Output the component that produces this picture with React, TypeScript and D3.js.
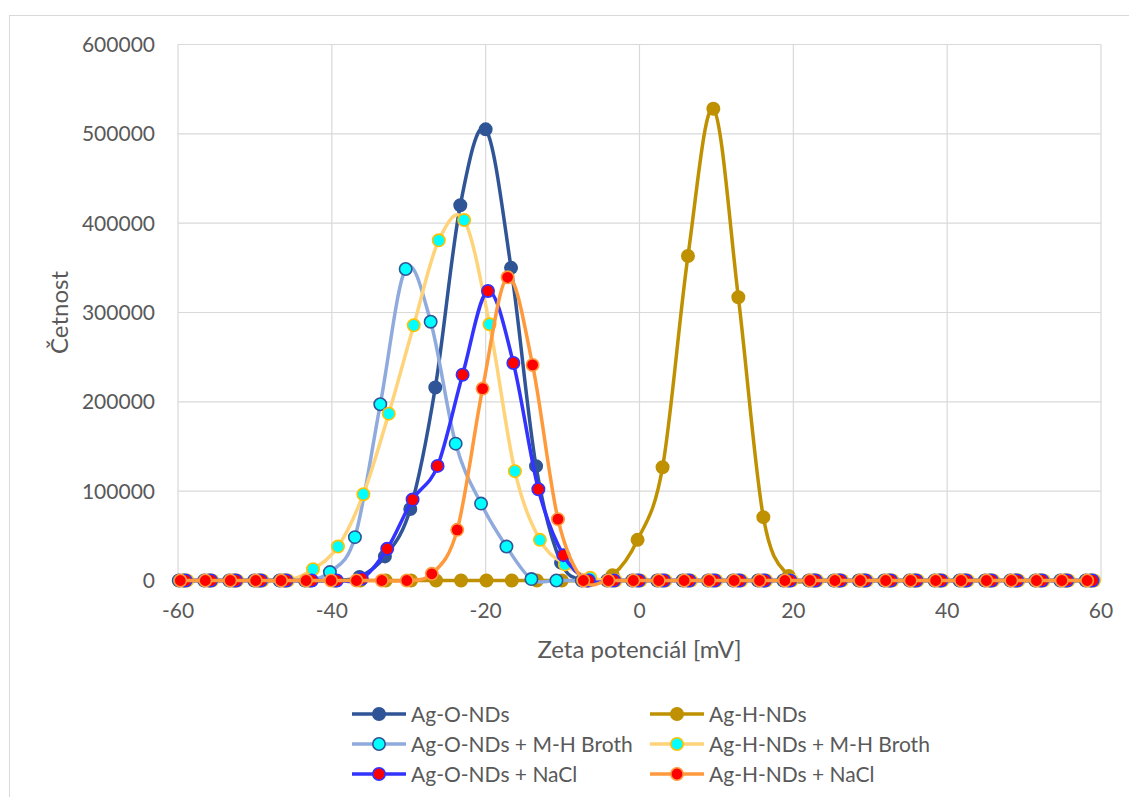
import React from "react";
import * as d3 from "d3";

// ---- data ----
const xTicks = [-60, -40, -20, 0, 20, 40, 60];
const yTicks = [0, 100000, 200000, 300000, 400000, 500000, 600000];

const seriesNames = [
  "Ag-O-NDs",
  "Ag-H-NDs",
  "Ag-O-NDs + M-H Broth",
  "Ag-H-NDs + M-H Broth",
  "Ag-O-NDs + NaCl",
  "Ag-H-NDs + NaCl",
];

const zetaAgO = [-59.3,-56.0,-52.75,-49.5,-46.2,-42.9,-39.65,-36.4,-33.1,-29.8,-26.55,-23.3,-20.0,-16.7,-13.45,-10.2,-6.9,-3.6,-0.35,2.9,6.2,9.5,12.75,16.0,19.3,22.6,25.85,29.1,32.4,35.7,38.95,42.2,45.5,48.8,52.05,55.3,58.6];
const countAgO = [0,0,0,0,0,0,0,4000,27000,80000,216000,420000,505000,350000,128000,20000,0,0,0,0,0,0,0,0,0,0,0,0,0,0,0,0,0,0,0,0,0];

const zetaAgH = [-59.2,-55.9,-52.65,-49.4,-46.1,-42.8,-39.55,-36.3,-33.0,-29.7,-26.45,-23.2,-19.9,-16.6,-13.35,-10.1,-6.8,-3.5,-0.25,3.0,6.3,9.6,12.85,16.1,19.4,22.7,25.95,29.2,32.5,35.8,39.05,42.3,45.6,48.9,52.15,55.4,58.7];
const countAgH = [0,0,0,0,0,0,0,0,0,0,0,0,0,0,0,0,0,6000,45500,126800,363200,528000,317000,70900,5000,0,0,0,0,0,0,0,0,0,0,0,0];

const zetaAgOBroth = [-59.9,-56.6,-53.35,-50.1,-46.8,-43.5,-40.25,-37.0,-33.7,-30.4,-27.15,-23.9,-20.6,-17.3,-14.05,-10.8,-7.5,-4.2,-0.95,2.3,5.6,8.9,12.15,15.4,18.7,22.0,25.25,28.5,31.8,35.1,38.35,41.6,44.9,48.2,51.45,54.7,58.0];
const countAgOBroth = [0,0,0,0,0,0,9400,48500,197300,348700,289700,153200,86100,38000,1600,0,0,0,0,0,0,0,0,0,0,0,0,0,0,0,0,0,0,0,0,0,0];

const zetaAgHBroth = [-58.8,-55.55,-52.3,-49.0,-45.7,-42.45,-39.2,-35.9,-32.6,-29.35,-26.1,-22.8,-19.5,-16.2,-12.95,-9.7,-6.4,-3.1,0.15,3.4,6.7,10.0,13.25,16.5,19.8,23.1,26.35,29.6,32.9,36.2,39.45,42.7,46.0,49.3,52.55,55.8,59.1];
const countAgHBroth = [0,0,0,0,0,12700,38000,96600,186800,285700,380800,403500,286800,122400,45500,18000,3000,0,0,0,0,0,0,0,0,0,0,0,0,0,0,0,0,0,0,0,0];

const zetaAgONaCl = [-59.0,-55.7,-52.45,-49.2,-45.9,-42.6,-39.35,-36.1,-32.8,-29.5,-26.25,-23.0,-19.7,-16.4,-13.15,-9.9,-6.6,-3.3,-0.05,3.2,6.5,9.8,13.05,16.3,19.6,22.9,26.15,29.4,32.7,36.0,39.25,42.5,45.8,49.1,52.35,55.6,58.9];
const countAgONaCl = [0,0,0,0,0,0,0,2000,35500,90600,128300,230400,324100,243500,102200,28400,0,0,0,0,0,0,0,0,0,0,0,0,0,0,0,0,0,0,0,0,0];

const zetaAgHNaCl = [-59.7,-56.45,-53.2,-49.9,-46.6,-43.35,-40.1,-36.8,-33.5,-30.25,-27.0,-23.7,-20.4,-17.15,-13.9,-10.6,-7.3,-4.05,-0.8,2.5,5.8,9.05,12.3,15.6,18.9,22.15,25.4,28.7,32.0,35.25,38.5,41.8,45.1,48.35,51.6,54.9,58.2];
const countAgHNaCl = [0,0,0,0,0,0,0,0,0,0,7500,56700,214800,339400,241300,68700,0,0,0,0,0,0,0,0,0,0,0,0,0,0,0,0,0,0,0,0,0];

const seriesX = [zetaAgO, zetaAgH, zetaAgOBroth, zetaAgHBroth, zetaAgONaCl, zetaAgHNaCl];
const seriesY = [countAgO, countAgH, countAgOBroth, countAgHBroth, countAgONaCl, countAgHNaCl];

// styles
const lineColors = ["#2F5597", "#BF9000", "#8FAADC", "#FFD37A", "#3333FF", "#FF9A3C"];
const markerFills = ["#2F5597", "#BF9000", "#00FFFF", "#00FFFF", "#FF0000", "#FF0000"];
const markerStrokes = ["#2F5597", "#BF9000", "#2F5597", "#FFC000", "#3333FF", "#FF9A3C"];

const W = 1129;
const H = 797;
const FONT = "Lato, 'Open Sans', sans-serif";
const TEXT = "#595959";
const GRID = "#d9d9d9";

export default function App() {
  const x = d3.scaleLinear().domain([-60, 60]).range([178, 1101]);
  const y = d3.scaleLinear().domain([0, 600000]).range([580.5, 44.5]);

  const line = d3
    .line<[number, number]>()
    .x((d) => x(d[0]))
    .y((d) => y(d[1]))
    .curve(d3.curveCatmullRom.alpha(0));

  const legendRows = [714, 744, 774];
  const legendCols = [352, 650];

  return (
    <svg
      width={W}
      height={H}
      style={{ position: "absolute", left: 0, top: 0, background: "#fff" }}
      fontFamily={FONT}
    >
      <rect x={0} y={0} width={W} height={H} fill="#fff" />
      <rect x={9.5} y={15.5} width={1140} height={800} fill="none" stroke={GRID} strokeWidth={1} />

      {/* gridlines */}
      {yTicks.map((t) => (
        <line key={"gy" + t} x1={x(-60)} x2={x(60)} y1={y(t)} y2={y(t)} stroke={GRID} strokeWidth={1.2} />
      ))}
      {xTicks.map((t) => (
        <line key={"gx" + t} x1={x(t)} x2={x(t)} y1={y(0)} y2={y(600000)} stroke={GRID} strokeWidth={1.2} />
      ))}

      {/* tick labels */}
      {yTicks.map((t) => (
        <text key={"ty" + t} x={155} y={y(t) + 7.5} textAnchor="end" fontSize={21} fill={TEXT}>
          {t}
        </text>
      ))}
      {xTicks.map((t) => (
        <text key={"tx" + t} x={x(t)} y={618} textAnchor="middle" fontSize={21} fill={TEXT}>
          {t}
        </text>
      ))}

      {/* axis titles */}
      <text x={x(0)} y={658} textAnchor="middle" fontSize={24} fill={TEXT}>
        Zeta potenciál [mV]
      </text>
      <text transform={`translate(68, ${(y(0) + y(600000)) / 2}) rotate(-90)`} textAnchor="middle" fontSize={24} fill={TEXT}>
        Četnost
      </text>

      {/* series */}
      {seriesNames.map((name, i) => {
        const pts: [number, number][] = seriesX[i].map((v, j) => [v, seriesY[i][j]]);
        return (
          <g key={name}>
            <path d={line(pts) || ""} fill="none" stroke={lineColors[i]} strokeWidth={3.5} strokeLinejoin="round" />
            {pts.map((p, j) => (
              <circle
                key={j}
                cx={x(p[0])}
                cy={y(p[1])}
                r={6.2}
                fill={markerFills[i]}
                stroke={markerStrokes[i]}
                strokeWidth={1.6}
              />
            ))}
          </g>
        );
      })}

      {/* legend */}
      {seriesNames.map((name, i) => {
        const col = i % 2;
        const row = Math.floor(i / 2);
        const lx = legendCols[col];
        const ly = legendRows[row];
        return (
          <g key={"lg" + name}>
            <line x1={lx} x2={lx + 54} y1={ly} y2={ly} stroke={lineColors[i]} strokeWidth={3.5} />
            <circle cx={lx + 27} cy={ly} r={6.2} fill={markerFills[i]} stroke={markerStrokes[i]} strokeWidth={1.6} />
            <text x={lx + 59} y={ly + 7.5} fontSize={21} fill={TEXT}>
              {name}
            </text>
          </g>
        );
      })}
    </svg>
  );
}
